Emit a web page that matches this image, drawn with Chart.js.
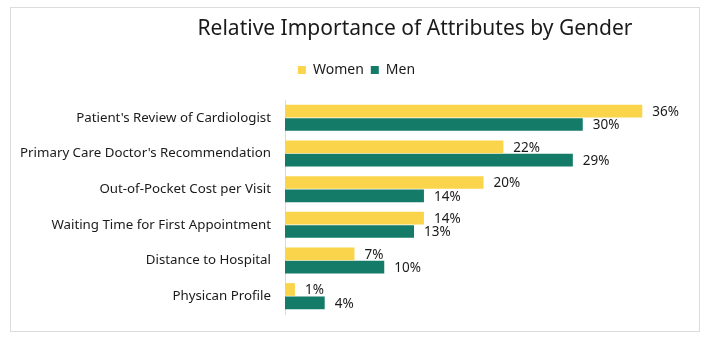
<!DOCTYPE html>
<html>
<head>
<meta charset="utf-8">
<script src="https://cdn.jsdelivr.net/npm/chart.js@4"></script>
<style>
  html, body { margin: 0; padding: 0; background: #fff; }
  #wrap { position: relative; width: 720px; height: 342px; }
  #frame { position: absolute; left: 10px; top: 7px; width: 688px; height: 323px; border: 1px solid #dcdcdc; }
  canvas { position: absolute; left: 0; top: 0; }
</style>
</head>
<body>
<div id="wrap">
  <div id="frame"></div>
  <canvas id="myChart" width="720" height="342"></canvas>
</div>
<script>
const categories = [
    "Patient's Review of Cardiologist",
    "Primary Care Doctor's Recommendation",
    "Out-of-Pocket Cost per Visit",
    "Waiting Time for First Appointment",
    "Distance to Hospital",
    "Physican Profile"
];
const women = [36, 22, 20, 14, 7, 1];
const men = [30, 29, 14, 13, 10, 4];
const seriesNames = ['Women', 'Men'];
const colors = ['#FAD54B', '#137B68'];
const title = 'Relative Importance of Attributes by Gender';
const fontFamily = '"Noto Sans", sans-serif';

// title is off-centre in the original, so draw it ourselves
const titlePlugin = {
    id: 'offsetTitle',
    afterDraw(chart) {
        const ctx = chart.ctx;
        ctx.save();
        ctx.font = '21px ' + fontFamily;
        ctx.fillStyle = '#1a1a1a';
        ctx.textAlign = 'center';
        ctx.textBaseline = 'middle';
        ctx.fillText(title, 415, 29);
        ctx.restore();
    }
};

// extra room under the legend, and centre it on the frame
const legendGap = {
    id: 'legendGap',
    beforeInit(chart) {
        const fit = chart.legend.fit;
        chart.legend.fit = function () {
            fit.bind(chart.legend)();
            this.height += 13;
        };
    },
    afterLayout(chart) {
        chart.legend.left = 0;
        chart.legend.right = 713;
    }
};

const valueLabels = {
    id: 'valueLabels',
    afterDatasetsDraw(chart) {
        const ctx = chart.ctx;
        ctx.save();
        ctx.font = '13.5px ' + fontFamily;
        ctx.fillStyle = '#1a1a1a';
        ctx.textBaseline = 'middle';
        chart.data.datasets.forEach((ds, i) => {
            chart.getDatasetMeta(i).data.forEach((bar, j) => {
                ctx.fillText(ds.data[j] + '%', bar.x + 10, bar.y + 1);
            });
        });
        ctx.restore();
    }
};

const data = {
    labels: categories,
    datasets: [
        { label: seriesNames[0], data: women, backgroundColor: colors[0] },
        { label: seriesNames[1], data: men, backgroundColor: colors[1] }
    ]
};

new Chart(document.getElementById('myChart'), {
    type: 'bar',
    data: data,
    options: {
        indexAxis: 'y',
        responsive: false,
        animation: false,
        datasets: {
            bar: { categoryPercentage: 0.75, barPercentage: 0.95 }
        },
        layout: { padding: { top: 56, right: 38, bottom: 28, left: 0 } },
        scales: {
            x: { display: false, min: 0, max: 40 },
            y: {
                grid: { display: false },
                border: { display: true, color: '#d9d9d9' },
                ticks: { color: '#1a1a1a', font: { size: 13.3, family: fontFamily }, padding: 6 },
                afterFit(scale) { scale.width = 285; }
            }
        },
        plugins: {
            legend: {
                position: 'top',
                labels: {
                    boxWidth: 8,
                    boxHeight: 8,
                    color: '#1a1a1a',
                    padding: 7,
                    font: { size: 14, family: fontFamily }
                }
            },
            tooltip: { enabled: false }
        }
    },
    plugins: [titlePlugin, legendGap, valueLabels]
});
</script>
</body>
</html>
